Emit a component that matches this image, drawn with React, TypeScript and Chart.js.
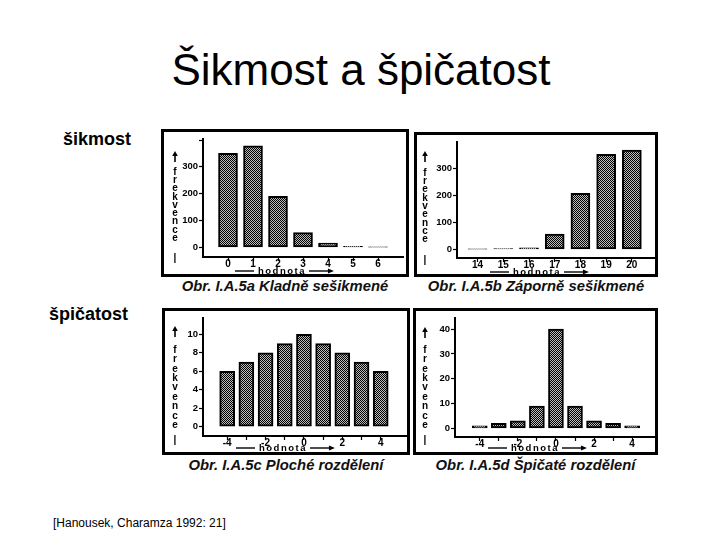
import React, { useEffect, useRef } from 'react';
import { Chart, registerables } from 'chart.js';

Chart.register(...registerables);

const FONT = "'Liberation Sans', Arial, Helvetica, sans-serif";

// ---- texts ----
const TITLE = 'Šikmost a špičatost';
const ROW_LABEL_SKEW = 'šikmost';
const ROW_LABEL_KURT = 'špičatost';
const SOURCE = '[Hanousek, Charamza 1992: 21]';
const Y_TITLE_LETTERS = ['f', 'r', 'e', 'k', 'v', 'e', 'n', 'c', 'e'];
const Y_TITLE_END = '|';
const X_TITLE = 'hodnota';

// ---- Obr. I.A.5a ----
const captionA = 'Obr. I.A.5a Kladně sešikmené';
const categoriesA = [0, 1, 2, 3, 4, 5, 6];
const valuesA = [350, 378, 190, 55, 16, 4, 1];
const xTickLabelsA = ['0', '1', '2', '3', '4', '5', '6'];
const yTicksA = [0, 100, 200, 300, 400];
const yTickLabelsA = ['0', '100', '200', '300', ''];

// ---- Obr. I.A.5b ----
const captionB = 'Obr. I.A.5b Záporně sešikmené';
const categoriesB = [14, 15, 16, 17, 18, 19, 20];
const valuesB = [1, 3, 6, 57, 208, 353, 369];
const xTickLabelsB = ['14', '15', '16', '17', '18', '19', '20'];
const yTicksB = [0, 100, 200, 300];
const yTickLabelsB = ['0', '100', '200', '300'];

// ---- Obr. I.A.5c ----
const captionC = 'Obr. I.A.5c Ploché rozdělení';
const categoriesC = [-4, -3, -2, -1, 0, 1, 2, 3, 4];
const valuesC = [6, 7, 8, 9, 10, 9, 8, 7, 6];
const xTickLabelsC = ['-4', '', '-2', '', '0', '', '2', '', '4'];
const yTicksC = [0, 2, 4, 6, 8, 10];
const yTickLabelsC = ['0', '2', '4', '6', '8', '10'];

// ---- Obr. I.A.5d ----
const captionD = 'Obr. I.A.5d Špičaté rozdělení';
const categoriesD = [-4, -3, -2, -1, 0, 1, 2, 3, 4];
const valuesD = [1, 2, 3, 9, 40, 9, 3, 2, 1];
const xTickLabelsD = ['-4', '', '-2', '', '0', '', '2', '', '4'];
const yTicksD = [0, 10, 20, 30, 40];
const yTickLabelsD = ['0', '10', '20', '30', '40'];

type PanelCfg = {
  caption: string;
  categories: number[];
  values: number[];
  xLabels: string[];
  yTicks: number[];
  yLabels: string[];
  box: { left: number; top: number; w: number; h: number };
  captionTop: number;
  xMin: number; xMax: number; yMin: number; yMax: number;
  yAxisWidth: number; xAxisHeight: number; padTop: number; padRight: number;
  barThickness: number;
  lx: number; arrowY: number; letterY: number; letterStep: number; endY: number;
  tx: number; ty: number;
};

const panels: PanelCfg[] = [
  {
    caption: captionA, categories: categoriesA, values: valuesA, xLabels: xTickLabelsA,
    yTicks: yTicksA, yLabels: yTickLabelsA,
    box: { left: 161, top: 129, w: 248, h: 148 }, captionTop: 279,
    xMin: -1, xMax: 7, yMin: -36, yMax: 405,
    yAxisWidth: 39, xAxisHeight: 17, padTop: 3, padRight: 3, barThickness: 19,
    lx: 11, arrowY: 25, letterY: 40, letterStep: 8.25, endY: 126, tx: 71, ty: 139,
  },
  {
    caption: captionB, categories: categoriesB, values: valuesB, xLabels: xTickLabelsB,
    yTicks: yTicksB, yLabels: yTickLabelsB,
    box: { left: 414, top: 132, w: 244, h: 145 }, captionTop: 279,
    xMin: 13.2, xMax: 20.9, yMin: -32, yMax: 400,
    yAxisWidth: 40, xAxisHeight: 16, padTop: 2, padRight: 0, barThickness: 19,
    lx: 8, arrowY: 22, letterY: 38, letterStep: 8.3, endY: 125, tx: 73, ty: 137,
  },
  {
    caption: captionC, categories: categoriesC, values: valuesC, xLabels: xTickLabelsC,
    yTicks: yTicksC, yLabels: yTickLabelsC,
    box: { left: 162, top: 308, w: 248, h: 147 }, captionTop: 458,
    xMin: -5.26, xMax: 5.37, yMin: -1, yMax: 11.8,
    yAxisWidth: 38, xAxisHeight: 16, padTop: 1, padRight: 0, barThickness: 15,
    lx: 10, arrowY: 21, letterY: 39, letterStep: 9.4, endY: 129, tx: 71, ty: 137,
  },
  {
    caption: captionD, categories: categoriesD, values: valuesD, xLabels: xTickLabelsD,
    yTicks: yTicksD, yLabels: yTickLabelsD,
    box: { left: 413, top: 308, w: 245, h: 147 }, captionTop: 458,
    xMin: -5.3, xMax: 5.2, yMin: -3.5, yMax: 44.6,
    yAxisWidth: 39, xAxisHeight: 15, padTop: 1, padRight: 0, barThickness: 15,
    lx: 9, arrowY: 22, letterY: 39, letterStep: 9.4, endY: 129, tx: 72, ty: 137,
  },
];

function makePattern(ctx: CanvasRenderingContext2D) {
  const c = document.createElement('canvas');
  c.width = 4;
  c.height = 4;
  const g = c.getContext('2d')!;
  g.fillStyle = '#bdbdbd';
  g.fillRect(0, 0, 4, 4);
  g.fillStyle = '#000';
  for (let y = 0; y < 4; y++) {
    for (let x = 0; x < 4; x++) {
      if ((x + y) % 2 === 0 || (x === 3 && y === 1) || (x === 1 && y === 3)) g.fillRect(x, y, 1, 1);
    }
  }
  return ctx.createPattern(c, 'repeat')!;
}

function Panel({ cfg }: { cfg: PanelCfg }) {
  const ref = useRef<HTMLCanvasElement>(null);
  useEffect(() => {
    const canvas = ref.current!;
    const pattern = makePattern(canvas.getContext('2d')!);
    const titlesPlugin = {
      id: 'axisTitles',
      afterDraw(chart: any) {
        const ctx: CanvasRenderingContext2D = chart.ctx;
        ctx.save();
        ctx.fillStyle = '#000';
        ctx.strokeStyle = '#000';
        // vertical arrow above the stacked letters
        ctx.lineWidth = 1.6;
        ctx.beginPath();
        ctx.moveTo(cfg.lx, cfg.arrowY + 5);
        ctx.lineTo(cfg.lx, cfg.arrowY - 3);
        ctx.stroke();
        ctx.beginPath();
        ctx.moveTo(cfg.lx, cfg.arrowY - 6);
        ctx.lineTo(cfg.lx - 2.8, cfg.arrowY - 1);
        ctx.lineTo(cfg.lx + 2.8, cfg.arrowY - 1);
        ctx.closePath();
        ctx.fill();
        ctx.textAlign = 'center';
        ctx.textBaseline = 'middle';
        ctx.font = `bold 10px ${FONT}`;
        Y_TITLE_LETTERS.forEach((ch, i) => ctx.fillText(ch, cfg.lx, cfg.letterY + i * cfg.letterStep));
        ctx.fillText(Y_TITLE_END, cfg.lx, cfg.endY);
        // x title: —— hodnota ——>
        const x0 = cfg.tx;
        const y = cfg.ty;
        ctx.lineWidth = 1.4;
        ctx.beginPath();
        ctx.moveTo(x0, y);
        ctx.lineTo(x0 + 19, y);
        ctx.stroke();
        ctx.textAlign = 'left';
        (ctx as any).letterSpacing = '1.5px';
        ctx.font = `bold 9.5px ${FONT}`;
        ctx.fillText(X_TITLE, x0 + 23, y);
        const w = ctx.measureText(X_TITLE).width;
        (ctx as any).letterSpacing = '0px';
        const ax = x0 + 23 + w + 3;
        ctx.beginPath();
        ctx.moveTo(ax, y);
        ctx.lineTo(ax + 22, y);
        ctx.stroke();
        ctx.beginPath();
        ctx.moveTo(ax + 25, y);
        ctx.lineTo(ax + 19, y - 2.5);
        ctx.lineTo(ax + 19, y + 2.5);
        ctx.closePath();
        ctx.fill();
        ctx.restore();
      },
    };
    const chart = new Chart(canvas, {
      type: 'bar',
      data: {
        datasets: [
          {
            data: cfg.categories.map((c, i) => ({ x: c, y: cfg.values[i] })),
            backgroundColor: pattern,
            borderColor: '#000',
            borderWidth: 2,
            borderSkipped: false,
            barThickness: cfg.barThickness,
          } as any,
        ],
      },
      options: {
        responsive: false,
        animation: false,
        events: [],
        layout: { padding: { top: cfg.padTop, right: cfg.padRight, left: 0, bottom: 0 } },
        plugins: { legend: { display: false }, tooltip: { enabled: false } },
        scales: {
          x: {
            type: 'linear',
            offset: false,
            min: cfg.xMin,
            max: cfg.xMax,
            afterBuildTicks: (s: any) => {
              s.ticks = cfg.categories.map((v) => ({ value: v }));
            },
            afterFit: (s: any) => {
              s.height = cfg.xAxisHeight;
            },
            grid: { display: true, offset: false, drawOnChartArea: false, drawTicks: true, tickLength: 4, color: '#000', tickWidth: 1.2 },
            border: { display: true, color: '#000', width: 2 },
            ticks: {
              autoSkip: false,
              maxRotation: 0,
              padding: -3,
              color: '#000',
              font: { family: FONT, size: 10, weight: 'bold' },
              callback: (v: any) => {
                const i = cfg.categories.indexOf(Number(v));
                return i >= 0 ? cfg.xLabels[i] : '';
              },
            },
          },
          y: {
            type: 'linear',
            min: cfg.yMin,
            max: cfg.yMax,
            afterBuildTicks: (s: any) => {
              s.ticks = cfg.yTicks.map((v) => ({ value: v }));
            },
            afterFit: (s: any) => {
              s.width = cfg.yAxisWidth;
            },
            grid: { display: true, drawOnChartArea: false, drawTicks: true, tickLength: 4, color: '#000', tickWidth: 1.2 },
            border: { display: true, color: '#000', width: 2 },
            ticks: {
              autoSkip: false,
              padding: 1,
              color: '#000',
              font: { family: FONT, size: 9.5, weight: 'bold' },
              callback: (v: any) => {
                const i = cfg.yTicks.indexOf(Number(v));
                return i >= 0 ? cfg.yLabels[i] : '';
              },
            },
          },
        },
      } as any,
      plugins: [titlesPlugin],
    });
    return () => chart.destroy();
  }, [cfg]);

  const { left, top, w, h } = cfg.box;
  return (
    <>
      <div
        style={{
          position: 'absolute',
          left,
          top,
          width: w,
          height: h,
          border: '3px solid #000',
          boxSizing: 'border-box',
          background: '#fff',
        }}
      >
        <canvas ref={ref} width={w - 6} height={h - 6} style={{ display: 'block' }} />
      </div>
      <div
        style={{
          position: 'absolute',
          left: left - 20,
          width: w + 40,
          top: cfg.captionTop,
          textAlign: 'center',
          font: `italic bold 14.8px/1 ${FONT}`,
          color: '#111',
          whiteSpace: 'nowrap',
        }}
      >
        {cfg.caption}
      </div>
    </>
  );
}

export default function App() {
  return (
    <div
      style={{
        position: 'absolute',
        left: 0,
        top: 0,
        width: 720,
        height: 540,
        background: '#fff',
        overflow: 'hidden',
        fontFamily: FONT,
      }}
    >
      <div
        style={{
          position: 'absolute',
          left: 0,
          top: 48,
          width: 722,
          textAlign: 'center',
          font: `44px/1 ${FONT}`,
          color: '#000',
          whiteSpace: 'nowrap',
        }}
      >
        {TITLE}
      </div>
      <div style={{ position: 'absolute', left: 63, top: 130, font: `bold 18px/1 ${FONT}`, color: '#000' }}>
        {ROW_LABEL_SKEW}
      </div>
      <div style={{ position: 'absolute', left: 49, top: 305, font: `bold 18px/1 ${FONT}`, color: '#000' }}>
        {ROW_LABEL_KURT}
      </div>
      {panels.map((p, i) => (
        <Panel key={i} cfg={p} />
      ))}
      <div style={{ position: 'absolute', left: 53, top: 517, font: `12px/1 ${FONT}`, color: '#000', whiteSpace: 'nowrap' }}>
        {SOURCE}
      </div>
    </div>
  );
}
